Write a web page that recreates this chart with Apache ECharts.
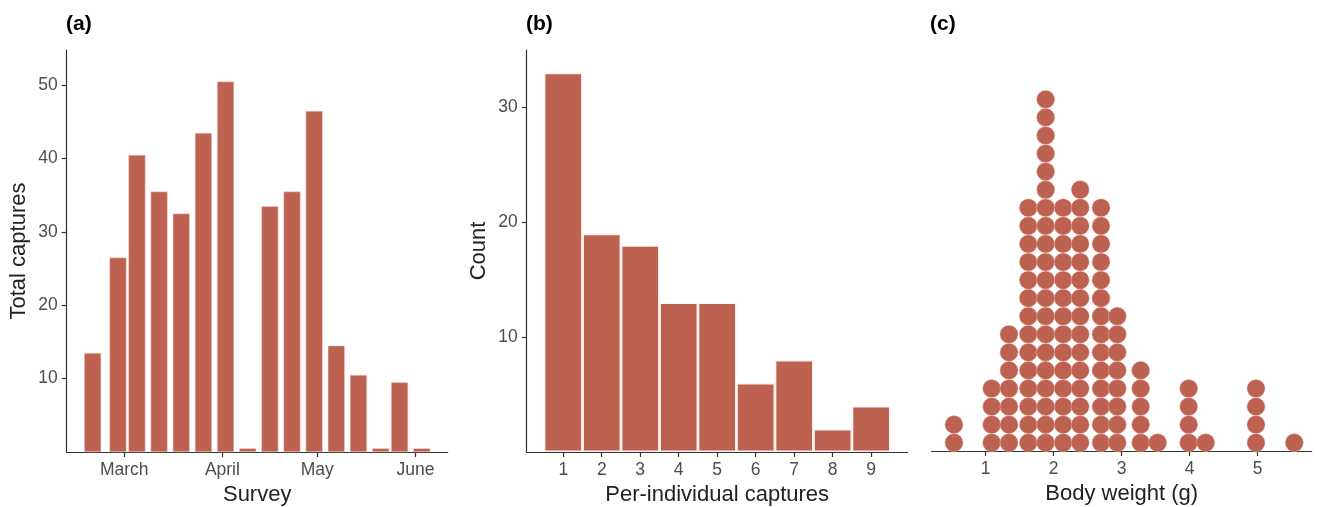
<!DOCTYPE html>
<html>
<head>
<meta charset="utf-8">
<script src="https://cdn.jsdelivr.net/npm/echarts@6/dist/echarts.min.js"></script>
<style>
html,body{margin:0;padding:0;background:#fff;}
#chart{width:1317px;height:507px;}
</style>
</head>
<body>
<div id="chart"></div>
<script>
// ---- Panel (a): survey totals ----
const surveyDates = ['2022-02-19','2022-02-27','2022-03-05','2022-03-12','2022-03-19','2022-03-26','2022-04-02','2022-04-09','2022-04-16','2022-04-23','2022-04-30','2022-05-07','2022-05-14','2022-05-21','2022-05-27','2022-06-03'];
const totalCaptures = [13.5, 26.5, 40.5, 35.5, 32.5, 43.5, 50.5, 0.5, 33.5, 35.5, 46.5, 14.5, 10.5, 0.5, 9.5, 0.5];
const monthTickDates = ['2022-03-01','2022-04-01','2022-05-01','2022-06-01'];
const monthLabels = ['March','April','May','June'];
const capturesTicks = [10, 20, 30, 40, 50];

// ---- Panel (b): per-individual captures histogram ----
const perIndividualCaptures = [1, 2, 3, 4, 5, 6, 7, 8, 9];
const individualCounts = [33, 19, 18, 13, 13, 6, 8, 2, 4];
const countTicks = [10, 20, 30];

// ---- Panel (c): body weight dot plot ----
const weightStackCentres = [0.534, 1.088, 1.343, 1.627, 1.882, 2.14, 2.39, 2.696, 2.935, 3.279, 3.529, 3.985, 4.235, 4.975, 5.538];
const weightStackCounts  = [2, 4, 7, 14, 20, 14, 15, 14, 8, 5, 1, 4, 1, 4, 1];
const weightTicks = [1, 2, 3, 4, 5];

// helpers
function dayOffset(s) {
  const p = s.split('-').map(Number);
  return Math.round((Date.UTC(p[0], p[1] - 1, p[2]) - Date.UTC(2022, 2, 1)) / 86400000);
}
const monthTickDays = monthTickDates.map(dayOffset);
const barDataA = surveyDates.map((d, i) => [dayOffset(d), totalCaptures[i]]);
const barDataB = perIndividualCaptures.map((k, i) => [k, individualCounts[i]]);
const dotData = [];
weightStackCentres.forEach((x, i) => {
  for (let k = 1; k <= weightStackCounts[i]; k++) dotData.push([x, k]);
});

const FONT = "'Liberation Sans', Arial, Helvetica, sans-serif";
const FILL = '#BD6251';
const AXIS_COLOR = '#333';
const TICK_TEXT = '#4D4D4D';
const TITLE_TEXT = '#222';

function tick(values) {
  return { show: true, customValues: values, length: 5, lineStyle: { color: AXIS_COLOR, width: 1.2 } };
}
function labels(values, fmt, margin) {
  return { show: true, customValues: values, fontFamily: FONT, fontSize: 17.5, color: TICK_TEXT, margin: margin, formatter: fmt };
}
function baseAxis(extra) {
  return Object.assign({
    axisLine: { show: true, onZero: false, lineStyle: { color: AXIS_COLOR, width: 1.2 } },
    splitLine: { show: false },
    nameLocation: 'middle',
    nameTextStyle: { fontFamily: FONT, fontSize: 22, color: TITLE_TEXT }
  }, extra);
}
function tag(text, left) {
  return { text: text, left: left, top: 14, padding: 0, textStyle: { fontFamily: FONT, fontSize: 21, fontWeight: 'bold', color: '#000' } };
}
function grid(left, width, height) {
  return { left: left, top: 50, width: width, height: height, containLabel: false, outerBoundsMode: 'none' };
}

const chart = echarts.init(document.getElementById('chart'), null, { renderer: 'canvas' });
const option = {
  animation: false,
  backgroundColor: '#fff',
  title: [tag('(a)', 66), tag('(b)', 526), tag('(c)', 930)],
  grid: [grid(66.7, 381, 402), grid(526.7, 381, 402), grid(931.7, 380, 401)],
  xAxis: [
    baseAxis({
      type: 'value', gridIndex: 0, min: -18.2, max: 102.2,
      name: 'Survey', nameGap: 28,
      axisTick: tick(monthTickDays),
      axisLabel: labels(monthTickDays, v => monthLabels[monthTickDays.indexOf(Math.round(v))], 9)
    }),
    baseAxis({
      type: 'value', gridIndex: 1, min: 0.05, max: 9.95,
      name: 'Per-individual captures', nameGap: 28,
      axisTick: tick(perIndividualCaptures),
      axisLabel: labels(perIndividualCaptures, v => String(v), 9)
    }),
    baseAxis({
      type: 'value', gridIndex: 2, min: 0.206, max: 5.794,
      name: 'Body weight (g)', nameGap: 28,
      axisTick: tick(weightTicks),
      axisLabel: labels(weightTicks, v => String(v), 9)
    })
  ],
  yAxis: [
    baseAxis({
      type: 'value', gridIndex: 0, min: 0, max: 54.8,
      name: 'Total captures', nameGap: 37,
      axisTick: tick(capturesTicks),
      axisLabel: labels(capturesTicks, v => String(v), 9)
    }),
    baseAxis({
      type: 'value', gridIndex: 1, min: 0, max: 35,
      name: 'Count', nameGap: 37,
      axisTick: tick(countTicks),
      axisLabel: labels(countTicks, v => String(v), 9)
    }),
    {
      type: 'value', gridIndex: 2, min: 0.541, max: 22.73, show: false,
      splitLine: { show: false }
    }
  ],
  series: [
    {
      type: 'bar', xAxisIndex: 0, yAxisIndex: 0, data: barDataA, barWidth: 17,
      itemStyle: { color: FILL, borderColor: '#f2d4cd', borderWidth: 0.5 }
    },
    {
      type: 'bar', xAxisIndex: 1, yAxisIndex: 1, data: barDataB, barWidth: 38.5,
      itemStyle: { color: FILL, borderColor: '#fdf3f1', borderWidth: 1.4 }
    },
    {
      type: 'scatter', xAxisIndex: 2, yAxisIndex: 2, data: dotData, symbol: 'circle', symbolSize: 18.2,
      itemStyle: { color: FILL, opacity: 1, borderColor: '#f0d0c9', borderWidth: 0.4 }
    }
  ]
};
chart.setOption(option);
</script>
</body>
</html>
